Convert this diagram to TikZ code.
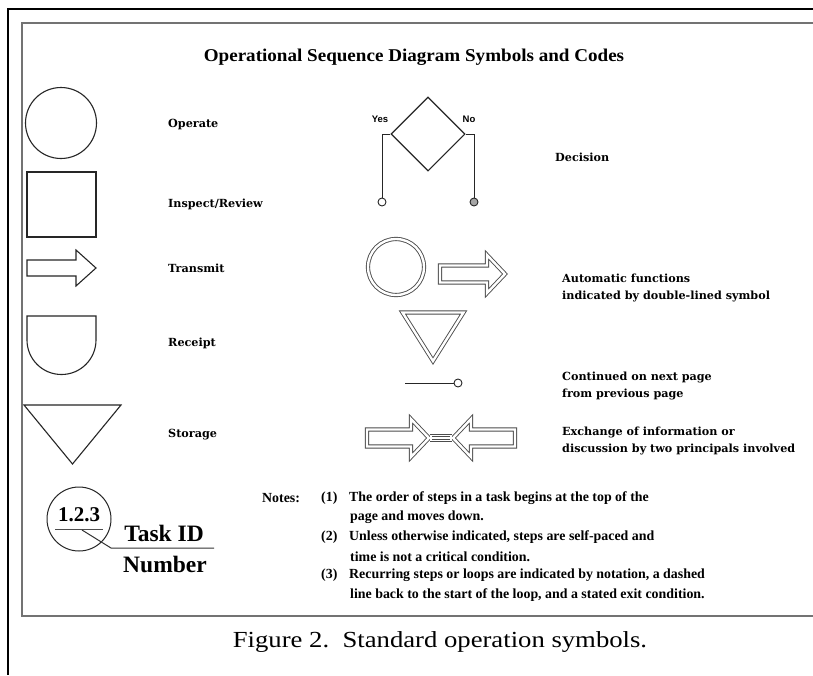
\documentclass[tikz,border=0pt]{standalone}
\usepackage{fontspec}
\setmainfont{Liberation Serif}
\newfontfamily\lblfont{DejaVu Serif}
\newfontfamily\sansfnt{Liberation Sans}
\usetikzlibrary{shapes.geometric}
\begin{document}
\begin{tikzpicture}[x=1pt,y=-1pt,
  shp/.style={draw=black!85, line width=1.1pt, line join=miter},
  dbl/.style={draw=black!70, double=white, double distance=2.4pt, line width=0.9pt, line join=miter},
  lbl/.style={anchor=west, inner sep=0pt, align=left, font=\lblfont\bfseries\fontsize{11.2}{16.5}\selectfont},
  note/.style={anchor=west, inner sep=0pt, font=\bfseries\fontsize{13.9}{16}\selectfont},
  dot/.style={circle, draw=black!85, line width=0.9pt, minimum size=8pt, inner sep=0pt},
  yn/.style={inner sep=0pt, font=\sansfnt\bfseries\fontsize{9.5}{10}\selectfont}]
\useasboundingbox (0,0) rectangle (813,675);
\fill[white] (0,0) rectangle (813,675);
% frames
\draw[black, line width=2.6pt] (813,9) -- (8,9) -- (8,675);
\draw[black!55, line width=1.6pt] (813,23) -- (22,23) -- (22,616) -- (813,616);
% title
\node[inner sep=0pt, font=\bfseries\fontsize{18}{20}\selectfont] (title) at (414,57) {\scalebox{1.06}[1]{Operational Sequence Diagram Symbols and Codes}};
% left column shapes
\draw[shp] (61,123) circle[radius=35.5];
\draw[shp] (27,172) rectangle (96,237);
\draw[shp] (27,260) -- (76,260) -- (76,250) -- (96,268) -- (76,286) -- (76,276) -- (27,276) -- cycle;
\draw[shp] (27,316) -- (96,316) -- (96,340) arc[start angle=0, end angle=180, radius=34.5] -- cycle;
\draw[shp] (24,405) -- (121,405) -- (72.5,464) -- cycle;
% left labels
\node[lbl] (l1) at (168,125) {Operate};
\node[lbl] (l2) at (168,204) {Inspect/Review};
\node[lbl] (l3) at (168,268) {Transmit};
\node[lbl] (l4) at (168,343) {Receipt};
\node[lbl] (l5) at (168,435) {Storage};
% task id
\draw[shp, line width=1pt] (79,519) circle[radius=32];
\node[inner sep=0pt, font=\bfseries\fontsize{21}{22}\selectfont] (tid) at (79,515) {1.2.3};
\draw[black!70, line width=1pt] (55,529) -- (103,529);
\coordinate (tl0) at (82,530);
\coordinate (tl1) at (111,548);
\coordinate (tl2) at (214,548);
\draw[black!80, line width=1pt] (tl0) -- (tl1) -- (tl2);
\node[inner sep=0pt, font=\bfseries\fontsize{23.5}{24}\selectfont] (task) at (164,533) {Task ID};
\node[inner sep=0pt, font=\bfseries\fontsize{23.5}{24}\selectfont] (num) at (165,564) {Number};
% decision
\node[diamond, shp, minimum width=74pt, minimum height=74pt, inner sep=0pt] (dec) at (428,134) {};
\node[dot] (yc) at (382,202) {};
\node[dot, fill=black!35] (nc) at (474,202) {};
\draw[shp, line width=0.9pt] (dec.west) -| (yc.north);
\draw[shp, line width=0.9pt] (dec.east) -| (nc.north);
\node[yn] (yes) at (380,119) {Yes};
\node[yn] (no) at (469,119) {No};
\node[lbl] (l6) at (555,157) {Decision};
% automatic functions
\draw[dbl] (396,267) circle[radius=28];
\draw[dbl] (440,265.5) -- (487,265.5) -- (487,255) -- (505,274) -- (487,293) -- (487,282.5) -- (440,282.5) -- cycle;
\draw[dbl] (402.5,312.5) -- (463.5,312.5) -- (433,361) -- cycle;
\node[lbl] (l7) at (562,288) {Automatic functions\\indicated by double-lined symbol};
% continued
\node[dot] (cont) at (458,383) {};
\coordinate (cs) at (405,383);
\draw[shp, line width=0.9pt] (cs) -- (cont.west);
\node[lbl] (l8) at (562,386) {Continued on next page\\from previous page};
% exchange
\draw[dbl] (367,429.5) -- (411,429.5) -- (411,419) -- (429,438) -- (411,457) -- (411,446.5) -- (367,446.5) -- cycle;
\draw[dbl] (515,429.5) -- (471,429.5) -- (471,419) -- (453,438) -- (471,457) -- (471,446.5) -- (515,446.5) -- cycle;
\draw[dbl, double distance=1.4pt, line width=0.7pt] (431,435.5) rectangle (451,440.5);
\node[lbl] (l9) at (562,441) {Exchange of information or\\discussion by two principals involved};
% notes
\node[note] (notes) at (262,498) {Notes:};
\node[note] (n1) at (321,498) {(1)};
\node[note] (n1a) at (349,498) {The order of steps in a task begins at the top of the};
\node[note] (n1b) at (350,517) {page and moves down.};
\node[note] (n2) at (321,537) {(2)};
\node[note] (n2a) at (349,537) {Unless otherwise indicated, steps are self-paced and};
\node[note] (n2b) at (350,557) {time is not a critical condition.};
\node[note] (n3) at (321,575) {(3)};
\node[note] (n3a) at (349,575) {Recurring steps or loops are indicated by notation, a dashed};
\node[note] (n3b) at (350,595) {line back to the start of the loop, and a stated exit condition.};
% caption
\node[inner sep=0pt, font=\fontsize{23}{24}\selectfont] (cap) at (440,642) {\scalebox{1.16}[1]{Figure 2.\ \ Standard operation symbols.}};
\end{tikzpicture}
\end{document}
